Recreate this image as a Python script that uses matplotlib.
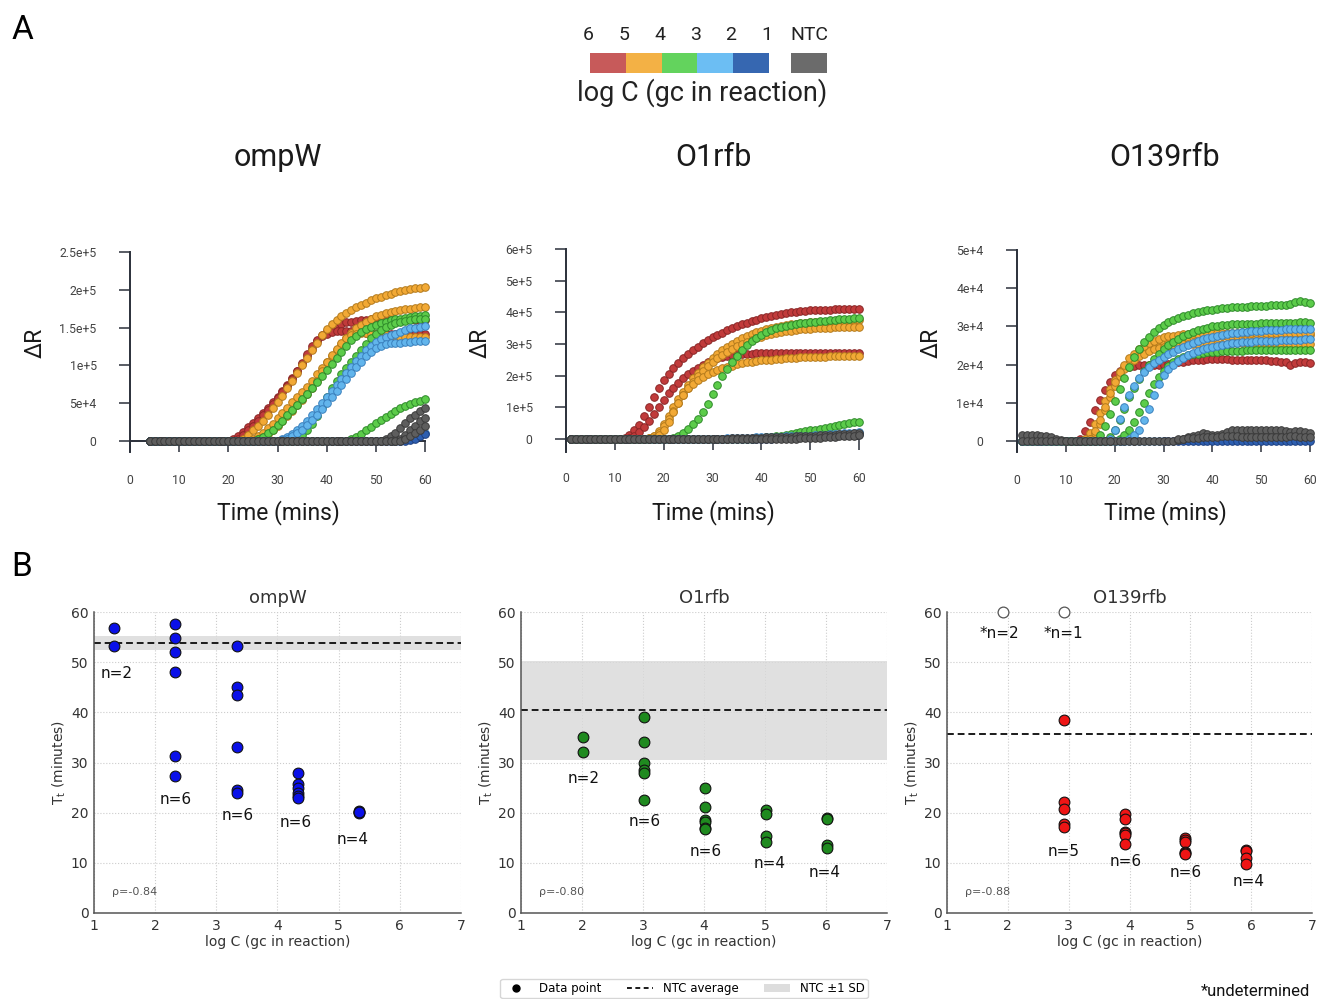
import numpy as np
import matplotlib
matplotlib.use("Agg")
import matplotlib.pyplot as plt
from matplotlib.lines import Line2D
from matplotlib.patches import Patch

plt.rcParams['font.family'] = ['Roboto', 'DejaVu Sans']

W, H = 1317, 999
nan = np.nan

# ---------- A: amplification curves, dR in thousands, one value per minute ----------
t_ompw = np.arange(4, 61)
ompw_red_a = [0]*17 + [2, 6, 12, 18, 24, 30, 37, 44, 51, 58, 66, 74, 83, 92, 102, 112, 122, 132, 140, 146, 150, 153, 155, 157, 158, 159, 160, 160, 161, 161, 161, 161, 160, 160, 160, 161, 161, 160, 160, 160]
ompw_red_b = [0]*18 + [3, 8, 14, 20, 27, 34, 41, 49, 57, 65, 73, 82, 92, 103, 115, 126, 134, 139, 142, 144, 145, 145, 146, 146, 145, 144, 143, 143, 142, 142, 141, 141, 141, 140, 140, 140, 141, 141, 141]
ompw_orange_a = [0]*19 + [3, 8, 14, 20, 27, 35, 43, 51, 60, 70, 80, 90, 100, 110, 120, 130, 140, 148, 155, 160, 165, 169, 173, 177, 180, 183, 186, 189, 191, 193, 195, 197, 198, 200, 201, 202, 203, 204]
ompw_orange_b = [0]*21 + [2, 6, 11, 17, 23, 30, 37, 44, 51, 58, 65, 72, 80, 88, 96, 104, 112, 120, 128, 136, 143, 149, 154, 158, 162, 165, 167, 169, 171, 172, 173, 174, 175, 176, 177, 177]
ompw_orange_c = [0]*22 + [2, 5, 9, 14, 20, 26, 33, 40, 47, 54, 62, 70, 80, 92, 104, 114, 122, 130, 136, 140, 142, 143, 143, 142, 141, 140, 140, 139, 139, 138, 138, 138, 138, 138, 138]
ompw_green_a = [0]*22 + [2, 5, 10, 15, 21, 27, 34, 41, 48, 55, 62, 70, 78, 86, 94, 102, 110, 118, 126, 133, 139, 144, 148, 151, 154, 156, 158, 160, 161, 162, 163, 164, 165, 166, 167]
ompw_green_b = [0]*30 + [3, 8, 15, 23, 33, 45, 58, 70, 80, 88, 96, 104, 112, 120, 128, 136, 142, 147, 151, 154, 156, 158, 159, 160, 161, 161, 162]
ompw_green_c = [0]*41 + [2, 5, 9, 14, 19, 24, 28, 32, 36, 40, 43, 46, 49, 51, 53, 55]
ompw_lblue_a = [0]*27 + [2, 5, 9, 14, 20, 27, 35, 42, 50, 58, 66, 74, 82, 90, 98, 106, 113, 120, 126, 131, 135, 138, 140, 142, 144, 147, 149, 150, 151, 152]
ompw_lblue_b = [0]*27 + [1, 3, 6, 10, 15, 21, 28, 35, 42, 50, 58, 66, 74, 82, 90, 98, 105, 112, 118, 123, 126, 128, 129, 130, 130, 131, 131, 132, 132, 132]
ompw_lblue_c = [0]*52 + [2, 4, 6, 8, 11]
ompw_dblue = [0]*53 + [1, 3, 6, 9]
ompw_gray_a = [0]*48 + [2, 6, 11, 17, 24, 30, 35, 40, 44]
ompw_gray_b = [0]*51 + [3, 8, 14, 20, 26, 31]
ompw_gray_c = [0]*52 + [2, 6, 10, 15, 20]

t_o1 = np.arange(1, 61)
o1_red_a = [0]*11 + [4, 12, 28, 45, 72, 102, 132, 160, 185, 206, 224, 240, 255, 268, 280, 292, 303, 313, 321, 329, 336, 343, 350, 356, 362, 367, 372, 377, 381, 385, 389, 392, 395, 398, 400, 402, 404, 405, 406, 407, 407, 408, 408, 409, 409, 409, 410, 410, 410]
o1_red_b = [0]*12 + [3, 10, 22, 38, 58, 80, 102, 124, 144, 162, 178, 192, 204, 215, 225, 234, 242, 249, 255, 259, 263, 266, 268, 269, 270, 270, 271, 271, 271, 271, 272, 272, 272, 272, 272, 272, 272, 272, 272, 272, 272, 272, 272, 271, 271, 271, 271, 271]
o1_orange_a = [0]*16 + [3, 10, 25, 48, 74, 100, 125, 150, 172, 192, 210, 226, 241, 255, 268, 280, 291, 301, 310, 318, 325, 331, 337, 342, 347, 351, 354, 357, 360, 362, 364, 366, 367, 368, 369, 370, 371, 372, 373, 374, 374, 375, 375, 376]
o1_orange_b = [0]*16 + [2, 8, 20, 40, 64, 90, 115, 138, 160, 180, 198, 214, 229, 243, 255, 266, 276, 285, 293, 300, 307, 313, 318, 323, 327, 331, 334, 337, 340, 342, 344, 346, 347, 348, 349, 350, 351, 352, 353, 353, 354, 354, 355, 355]
o1_orange_c = [0]*17 + [3, 12, 30, 55, 85, 115, 140, 160, 175, 186, 196, 204, 211, 217, 223, 228, 232, 236, 239, 242, 244, 246, 248, 250, 251, 253, 254, 255, 256, 257, 258, 258, 259, 259, 260, 260, 261, 261, 261, 262, 262, 262, 262]
o1_green_a = [0]*21 + [2, 8, 18, 32, 47, 64, 84, 110, 142, 170, 198, 222, 243, 262, 280, 296, 309, 320, 330, 338, 345, 350, 354, 357, 360, 363, 365, 367, 369, 371, 372, 374, 375, 376, 378, 379, 380, 382, 383]
o1_green_b = [0]*37 + [1, 2, 4, 5, 7, 9, 11, 13, 15, 18, 21, 24, 27, 30, 33, 36, 39, 42, 45, 48, 50, 53, 55]
o1_lblue = [0]*30 + [1, 1, 2, 2, 3, 3, 4, 4, 5, 5, 6, 6, 7, 7, 8, 8, 9, 10, 10, 11, 12, 13, 14, 15, 16, 17, 18, 19, 20, 21]
o1_dblue = [0]*40 + [1, 1, 2, 2, 3, 3, 4, 5, 5, 6, 7, 8, 9, 10, 11, 12, 13, 14, 15, 16]
o1_gray_a = [0]*30 + [1, 1, 1, 2, 2, 3, 3, 3, 4, 4, 5, 5, 6, 6, 7, 7, 8, 9, 9, 10, 11, 12, 12, 13, 14, 15, 16, 17, 18, 19]
o1_gray_b = [0]*45 + [1, 1, 2, 2, 3, 3, 4, 5, 6, 7, 8, 9, 10, 11, 12]

t_o139 = np.arange(1, 61)
o139_red = [0]*12 + [0.5, 2.5, 5, 8, 10.7, 13.3, 15.5, 17.2, 18.4, 19.1, 19.5, 19.7, 19.8, 19.9, 19.9, 20, 20, 20, 20.2, 20.4, 20.6, 20.8, 21, 21.1, 21.2, 21.3, 21.4, 21.5, 21.4, 21.4, 21.4, 21.3, 21.3, 21.3, 21.3, 21.2, 21.2, 21.2, 21.1, 21.0, 20.9, 20.8, 20.6, 20.0, 20.4, 20.7, 20.6, 20.4]
o139_orange_a = [0]*13 + [0.5, 2, 4.5, 7.2, 10.5, 13.5, 16, 18, 19.5, 20.5, 21.5, 22.5, 23.4, 24.2, 24.8, 25.3, 25.7, 26, 26.2, 26.4, 26.7, 26.9, 27.1, 27.2, 27.3, 27.3, 27.4, 27.4, 27.4, 27.5, 27.5, 27.5, 27.5, 27.6, 27.6, 27.6, 27.6, 27.6, 27.7, 27.7, 27.7, 27.7, 27.8, 27.8, 27.8, 27.8, 27.8]
o139_orange_b = [0]*14 + [0.5, 2, 4.5, 8, 11.5, 14.5, 17, 18.8, 20.2, 21.3, 22.2, 22.9, 23.5, 24, 24.4, 24.7, 24.9, 25.1, 25.2, 25.3, 25.3, 25.4, 25.4, 25.4, 25.5, 25.5, 25.5, 25.5, 25.5, 25.6, 25.6, 25.6, 25.6, 25.6, 25.6, 25.6, 25.6, 25.6, 25.6, 25.6, 25.6, 25.5, 25.5, 25.5, 25.5, 25.5]
o139_orange_c = [0]*14 + [0.5, 2.5, 5.5, 9, 12.5, 15.5, 18, 20, 21.6, 22.9, 24, 24.9, 25.6, 26.2, 26.7, 27.1, 27.4, 27.6, 27.8, 27.9, 28, 28, 28.1, 28.1, 28.2, 28.2, 28.2, 28.3, 28.3, 28.3, 28.3, 28.3, 28.4, 28.4, 28.4, 28.4, 28.4, 28.4, 28.4, 28.3, 28.3, 28.3, 28.3, 28.3, 28.3, 28.3]
o139_green_a = [0]*16 + [1.5, 4, 7, 10.5, 13.5, 16.5, 19.5, 22, 24, 25.8, 27.3, 28.6, 29.6, 30.4, 31.1, 31.7, 32.2, 32.6, 33, 33.4, 33.7, 34, 34.2, 34.4, 34.5, 34.7, 34.9, 35, 35.1, 35.2, 35.2, 35.3, 35.3, 35.4, 35.4, 35.5, 35.5, 35.5, 35.6, 35.8, 36.4, 36.6, 36.3, 36.2]
o139_green_b = [0]*18 + [1, 3, 5.5, 8.5, 11.5, 14, 16.3, 18.3, 20, 21.5, 22.8, 24, 25.1, 26, 26.8, 27.5, 28.1, 28.6, 29, 29.4, 29.7, 30, 30.2, 30.3, 30.4, 30.5, 30.5, 30.6, 30.6, 30.7, 30.7, 30.8, 30.8, 30.8, 30.9, 30.9, 30.9, 31, 31, 31.1, 31.1, 31]
o139_green_c = [0]*20 + [0.5, 1.5, 3, 5, 7.5, 10, 12.5, 14.8, 16.8, 18.4, 19.7, 20.7, 21.5, 22, 22.4, 22.7, 22.9, 23.1, 23.2, 23.3, 23.4, 23.5, 23.5, 23.6, 23.6, 23.6, 23.7, 23.7, 23.7, 23.7, 23.8, 23.8, 23.8, 23.8, 23.8, 23.8, 23.8, 23.9, 23.9, 23.9]
o139_lblue_a = [0]*18 + [0.5, 2.9, 5.8, 8.9, 12, 14.5, 16.5, 18, 19.3, 20.4, 21.3, 22.1, 22.8, 23.4, 24, 24.6, 25.2, 25.7, 26.2, 26.6, 27, 27.3, 27.6, 27.8, 28, 28.2, 28.3, 28.5, 28.6, 28.7, 28.8, 28.9, 29, 29, 29.1, 29.1, 29.2, 29.2, 29.2, 29.3, 29.3, 29.3]
o139_lblue_b = [0]*22 + [0.5, 1.5, 3, 5.5, 8.5, 12, 15, 17.2, 18.8, 20, 21, 21.8, 22.5, 23.1, 23.6, 24, 24.4, 24.7, 25, 25.2, 25.4, 25.6, 25.7, 25.8, 25.9, 26, 26.1, 26.2, 26.2, 26.3, 26.3, 26.4, 26.4, 26.5, 26.5, 26.5, 26.6, 26.6]
o139_lblue_c = [nan]*18 + [0]*12 + [nan]*30
o139_dblue = [nan]*29 + [0]*31
o139_gray_a = [1.5, 1.6, 1.6, 1.5, 1.4, 1.3, 1.0, 0.6, 0.3, 0.1] + [0]*22 + [0.3, 0.6, 1, 1.3, 1.6, 2, 1.8, 1.6, 1.7, 1.9, 2.4, 2.8, 2.9, 2.9, 3, 3, 3, 3, 3, 3, 2.9, 2.8, 2.6, 2.4, 2.5, 2.6, 2.4, 2.2]
o139_gray_b = [0]*19 + [nan]*4 + [0] + [nan]*8 + [0.5, 0.6, 0.7, 0.8, 0.9, 1, 1, 1.1, 1.1, 1.2, 1.2, 1.2, 1.2, 1.1, 1.1, 1.1, 1.1, 1.1, 1.1, 1.0, 1.0, 1.0, 1.1, 1.2, 1.2, 1.1, 1.0, 1.0]

ompw_curves = [(ompw_red_a, 'red'), (ompw_red_b, 'red'), (ompw_orange_a, 'orange'),
               (ompw_orange_b, 'orange'), (ompw_orange_c, 'orange'), (ompw_green_a, 'green'),
               (ompw_green_b, 'green'), (ompw_green_c, 'green'), (ompw_lblue_a, 'lblue'),
               (ompw_lblue_b, 'lblue'), (ompw_lblue_c, 'lblue'), (ompw_dblue, 'dblue'),
               (ompw_gray_a, 'gray'), (ompw_gray_b, 'gray'), (ompw_gray_c, 'gray')]
o1_curves = [(o1_red_a, 'red'), (o1_red_b, 'red'), (o1_orange_a, 'orange'), (o1_orange_b, 'orange'),
             (o1_orange_c, 'orange'), (o1_green_a, 'green'), (o1_green_b, 'green'),
             (o1_lblue, 'lblue'), (o1_dblue, 'dblue'), (o1_gray_a, 'gray'), (o1_gray_b, 'gray')]
o139_curves = [(o139_red, 'red'), (o139_orange_a, 'orange'), (o139_orange_b, 'orange'),
               (o139_orange_c, 'orange'), (o139_green_a, 'green'), (o139_green_b, 'green'),
               (o139_green_c, 'green'), (o139_lblue_a, 'lblue'), (o139_lblue_b, 'lblue'),
               (o139_lblue_c, 'lblue'), (o139_dblue, 'dblue'), (o139_gray_a, 'gray'), (o139_gray_b, 'gray')]

ompw_yticks = [0, 50, 100, 150, 200, 250]
ompw_ylabels = ['0', '5e+4', '1e+5', '1.5e+5', '2e+5', '2.5e+5']
o1_yticks = [0, 100, 200, 300, 400, 500, 600]
o1_ylabels = ['0', '1e+5', '2e+5', '3e+5', '4e+5', '5e+5', '6e+5']
o139_yticks = [0, 10, 20, 30, 40, 50]
o139_ylabels = ['0', '1e+4', '2e+4', '3e+4', '4e+4', '5e+4']

legend_labels = ['6', '5', '4', '3', '2', '1', 'NTC']
legend_colors = ['#c75a5a', '#f3b145', '#63d35d', '#6cbef3', '#3667b1', '#6b6b6b']

amp_face = {'red': '#c13b3b', 'orange': '#f2a935', 'green': '#5ccc4a',
            'lblue': '#62b5ec', 'dblue': '#2d5fb0', 'gray': '#5e5e5e'}
amp_edge = {'red': '#8a2626', 'orange': '#b37a1c', 'green': '#2e8a2a',
            'lblue': '#3a80bd', 'dblue': '#1d3f80', 'gray': '#3b3b3b'}

# ---------- B: time to threshold vs log C ----------
b_ompw_x = [1.33, 2.33, 3.33, 4.33, 5.33]
b_ompw_tt = [[56.8, 53.3], [57.6, 54.8, 52.0, 48.0, 31.3, 27.4], [53.3, 45.0, 43.5, 33.0, 24.6, 24.0],
             [28.0, 25.8, 24.9, 24.0, 23.4, 22.9], [20.3, 20.1, 19.9, 20.2]]
b_ompw_n = ['n=2', 'n=6', 'n=6', 'n=6', 'n=4']
b_o1_x = [2.02, 3.02, 4.02, 5.02, 6.02]
b_o1_tt = [[35.0, 32.0], [39.0, 34.0, 30.0, 28.6, 28.0, 22.6], [25.0, 21.2, 18.6, 18.2, 17.0, 16.8],
           [20.5, 19.8, 15.4, 14.1], [19.0, 18.8, 13.5, 12.9]]
b_o1_n = ['n=2', 'n=6', 'n=6', 'n=4', 'n=4']
b_o139_x = [2.92, 3.92, 4.92, 5.92]
b_o139_tt = [[38.5, 22.2, 20.7, 17.8, 17.2], [19.7, 18.8, 16.1, 15.9, 15.5, 13.8],
             [15.0, 14.6, 14.2, 12.2, 12.0, 11.8], [12.6, 12.4, 11.0, 9.8]]
b_o139_n = ['n=5', 'n=6', 'n=6', 'n=4']
b_o139_undet_x = [1.92, 2.92]
b_o139_undet_n = ['*n=2', '*n=1']
ntc_mean = {'ompW': 53.8, 'O1rfb': 40.4, 'O139rfb': 35.6}
ntc_sd = {'ompW': 1.35, 'O1rfb': 9.9, 'O139rfb': None}
rho = {'ompW': 'ρ=-0.84', 'O1rfb': 'ρ=-0.80', 'O139rfb': 'ρ=-0.88'}

# label positions (layout only)
ompw_npos = [(1.37, 47.8), (2.33, 22.7), (3.35, 19.5), (4.30, 18.1), (5.23, 14.7)]
o1_npos = [(2.02, 26.9), (3.02, 18.2), (4.03, 12.2), (5.07, 9.8), (5.98, 8.0)]
o139_npos = [(2.91, 12.2), (3.93, 10.2), (4.92, 8.0), (5.95, 6.2)]
o139_undet_pos = [(1.86, 55.8), (2.92, 55.8)]


def px_axes(fig, left, top, right, bottom):
    return fig.add_axes([left / W, 1 - bottom / H, (right - left) / W, (bottom - top) / H])


def ftext(fig, x, y, s, **kw):
    fig.text(x / W, 1 - y / H, s, ha=kw.pop('ha', 'center'), va=kw.pop('va', 'center'), **kw)


def amp_panel(ax, t, curves, ymax, yticks, ylabels, low):
    for vals, key in curves:
        ax.scatter(t, np.array(vals, dtype=float), s=30, c=amp_face[key], edgecolors=amp_edge[key],
                   linewidths=0.7, clip_on=False, zorder=3)
    ax.set_xlim(0, 60)
    ax.set_ylim(-low * ymax, ymax)
    ax.set_xticks(range(0, 61, 10))
    ax.set_yticks(yticks)
    ax.set_yticklabels(ylabels)
    for s in ['top', 'right']:
        ax.spines[s].set_visible(False)
    ax.spines['bottom'].set_position(('data', 0))
    for s in ['left', 'bottom']:
        ax.spines[s].set_color('#2b303a')
        ax.spines[s].set_linewidth(1.4)
    ax.tick_params(direction='out', length=8, width=1.1, color='#2b303a',
                   labelsize=8.8, labelcolor='#444444', pad=16)
    ax.patch.set_alpha(0)


def tt_panel(ax, xs, groups, color, name, nlabels, npos):
    sd = ntc_sd[name]
    if sd:
        ax.axhspan(ntc_mean[name] - sd, ntc_mean[name] + sd, color='#d9d9d9', alpha=0.8, lw=0, zorder=1)
    ax.axhline(ntc_mean[name], color='#1a1a1a', lw=1.4, ls=(0, (3.5, 2)), zorder=2)
    for x, g in zip(xs, groups):
        ax.scatter(np.full(len(g), x), g, s=60, c=color, edgecolors='#111111',
                   linewidths=0.8, zorder=4, clip_on=False)
    for (lx, ly), s in zip(npos, nlabels):
        ax.text(lx, ly, s, ha='center', va='center', fontsize=11, family='DejaVu Sans', color='#111111')
    ax.text(1.3, 4.2, rho[name], ha='left', va='center', fontsize=8, family='DejaVu Sans', color='#555555')
    ax.set_xlim(1, 7)
    ax.set_ylim(0, 60)
    ax.set_xticks(range(1, 8))
    ax.set_yticks(range(0, 61, 10))
    ax.grid(True, color='#cccccc', ls=':', lw=0.8)
    ax.set_axisbelow(True)
    for s in ['top', 'right']:
        ax.spines[s].set_visible(False)
    for s in ['left', 'bottom']:
        ax.spines[s].set_color('#555555')
        ax.spines[s].set_linewidth(1.1)
    ax.tick_params(length=0, pad=4, labelsize=10, labelcolor='#333333', labelfontfamily='DejaVu Sans')


fig = plt.figure(figsize=(W / 100, H / 100), dpi=100)

ftext(fig, 22, 30, 'A', fontsize=24)
ftext(fig, 22, 567, 'B', fontsize=24)

# colour key
kax = px_axes(fig, 590, 53, 827, 73)
key_left = [0, 1, 2, 3, 4, 5.62]
kax.bar(key_left, [1] * 6, width=1, align='edge', color=legend_colors, lw=0)
kax.set_xlim(0, 6.62)
kax.set_ylim(0, 1)
kax.axis('off')
for i, lab in enumerate(legend_labels[:6]):
    kax.text(i - 0.06, 1.9, lab, ha='center', va='center', fontsize=14, color='#222222')
kax.text(key_left[5] + 0.5, 1.9, legend_labels[6], ha='center', va='center', fontsize=14, color='#222222')
ftext(fig, 702, 93, 'log C (gc in reaction)', fontsize=19.5, color='#222222')

# panel A
ax1 = px_axes(fig, 130, 252, 425, 452)
amp_panel(ax1, t_ompw, ompw_curves, 250, ompw_yticks, ompw_ylabels, 11 / 189)
ax2 = px_axes(fig, 566, 249, 859, 452)
amp_panel(ax2, t_o1, o1_curves, 600, o1_yticks, o1_ylabels, 13 / 190)
ax3 = px_axes(fig, 1017, 250, 1310, 452)
amp_panel(ax3, t_o139, o139_curves, 50, o139_yticks, o139_ylabels, 11 / 191)

for cx, title in zip([278, 713, 1165], ['ompW', 'O1rfb', 'O139rfb']):
    ftext(fig, cx, 157, title, fontsize=22, color='#1a1a1a')
    ftext(fig, cx, 513, 'Time (mins)', fontsize=16.5, color='#1a1a1a')
for lx in [35, 480, 931]:
    ftext(fig, lx, 343, 'ΔR', fontsize=16.5, rotation=90, color='#1a1a1a')

# panel B
bx1 = px_axes(fig, 94, 612, 461, 913)
tt_panel(bx1, b_ompw_x, b_ompw_tt, '#0a10e8', 'ompW', b_ompw_n, ompw_npos)
bx2 = px_axes(fig, 521, 612, 887, 913)
tt_panel(bx2, b_o1_x, b_o1_tt, '#1f8a1f', 'O1rfb', b_o1_n, o1_npos)
bx3 = px_axes(fig, 947, 612, 1312, 913)
tt_panel(bx3, b_o139_x, b_o139_tt, '#ee1515', 'O139rfb', b_o139_n, o139_npos)
bx3.scatter(b_o139_undet_x, [60] * len(b_o139_undet_x), s=60, facecolors='white',
            edgecolors='#555555', linewidths=0.9, zorder=4, clip_on=False)
for (lx, ly), s in zip(o139_undet_pos, b_o139_undet_n):
    bx3.text(lx, ly, s, ha='center', va='center', fontsize=11, family='DejaVu Sans', color='#111111')

for ax, title in zip([bx1, bx2, bx3], ['ompW', 'O1rfb', 'O139rfb']):
    l, r = ax.get_position().x0 * W, ax.get_position().x1 * W
    ftext(fig, (l + r) / 2, 598, title, fontsize=13, family='DejaVu Sans', color='#333333')
    ftext(fig, (l + r) / 2, 942, 'log C (gc in reaction)', fontsize=10, family='DejaVu Sans', color='#333333')
    ftext(fig, l - 35, 763, r'T$_{\mathregular{t}}$ (minutes)', fontsize=10, rotation=90,
          family='DejaVu Sans', color='#333333')

handles = [Line2D([], [], marker='o', color='none', markerfacecolor='black', markeredgecolor='black', markersize=5),
           Line2D([], [], color='#1a1a1a', lw=1.4, ls=(0, (2.5, 1.8))),
           Patch(facecolor='#dddddd', edgecolor='none')]
fig.legend(handles, ['Data point', 'NTC average', 'NTC ±1 SD'], loc='upper center',
           bbox_to_anchor=(684 / W, 1 - 979 / H), ncol=3, handlelength=2.2, handleheight=0.6,
           columnspacing=2.2, borderpad=0.25, borderaxespad=0, edgecolor='#cccccc',
           prop={'family': 'DejaVu Sans', 'size': 8.5})
ftext(fig, 1310, 991, '*undetermined', ha='right', fontsize=12, color='#111111')

fig.savefig('out.png', dpi=100)
